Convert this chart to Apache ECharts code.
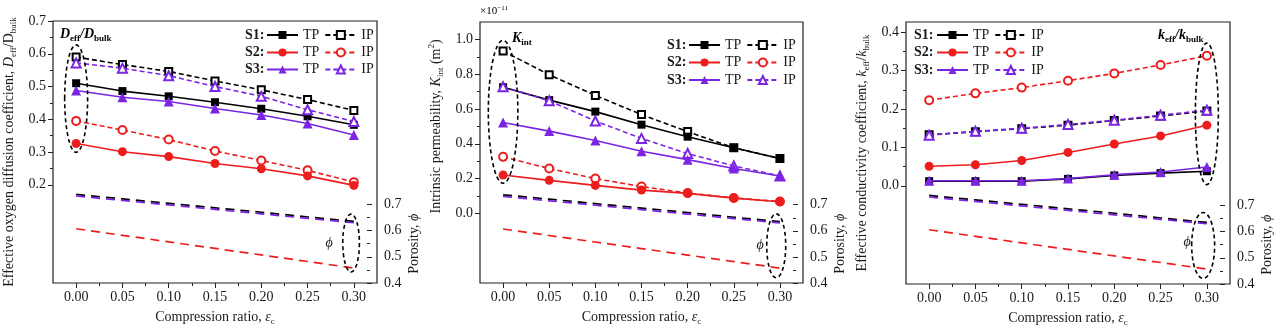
<!DOCTYPE html>
<html><head><meta charset="utf-8">
<script src="https://cdn.jsdelivr.net/npm/echarts@6/dist/echarts.min.js"></script>
<style>html,body{margin:0;padding:0;background:#fff}#c{width:1280px;height:332px}</style>
</head><body><div id="c"></div>
<script>
// ---------- DATA ----------
const xValues = [0, 0.05, 0.10, 0.15, 0.20, 0.25, 0.30];
// (a) Deff/Dbulk
const dS1TP = [0.510, 0.486, 0.470, 0.452, 0.432, 0.409, 0.383];
const dS1IP = [0.590, 0.567, 0.546, 0.517, 0.490, 0.460, 0.427];
const dS2TP = [0.326, 0.301, 0.286, 0.265, 0.249, 0.227, 0.198];
const dS2IP = [0.395, 0.367, 0.338, 0.303, 0.274, 0.244, 0.208];
const dS3TP = [0.488, 0.467, 0.454, 0.433, 0.413, 0.387, 0.352];
const dS3IP = [0.572, 0.556, 0.533, 0.500, 0.470, 0.429, 0.393];
// (b) Kint (x1e-11 m2)
const kS1TP = [0.725, 0.651, 0.585, 0.510, 0.441, 0.377, 0.315];
const kS1IP = [0.933, 0.797, 0.678, 0.568, 0.470, 0.377, 0.315];
const kS2TP = [0.221, 0.190, 0.161, 0.134, 0.115, 0.088, 0.067];
const kS2IP = [0.325, 0.258, 0.200, 0.154, 0.117, 0.089, 0.068];
const kS3TP = [0.522, 0.473, 0.419, 0.357, 0.309, 0.258, 0.215];
const kS3IP = [0.728, 0.647, 0.531, 0.431, 0.344, 0.273, 0.215];
// (c) keff/kbulk
const cS1TP = [0.012, 0.012, 0.012, 0.018, 0.027, 0.033, 0.038];
const cS1IP = [0.133, 0.141, 0.149, 0.158, 0.170, 0.182, 0.195];
const cS2TP = [0.051, 0.055, 0.066, 0.087, 0.109, 0.130, 0.158];
const cS2IP = [0.223, 0.241, 0.256, 0.274, 0.293, 0.315, 0.339];
const cS3TP = [0.013, 0.013, 0.013, 0.019, 0.029, 0.036, 0.049];
const cS3IP = [0.132, 0.142, 0.150, 0.160, 0.171, 0.184, 0.197];
// Porosity phi
const phiS1 = [0.738, 0.721, 0.704, 0.687, 0.670, 0.652, 0.635];
const phiS2 = [0.607, 0.582, 0.557, 0.532, 0.507, 0.482, 0.457];
const phiS3 = [0.732, 0.715, 0.698, 0.681, 0.664, 0.647, 0.630];
// Dashed ellipses [xCenter, xHalfWidth, yLow, yHigh]
const ellA = [0.000, 0.0124, 0.299, 0.627];
const ellAphi = [0.297, 0.0090, 0.442, 0.663];
const ellB = [0.000, 0.0160, 0.173, 0.994];
const ellBphi = [0.296, 0.0103, 0.420, 0.665];
const ellC = [0.300, 0.0124, 0.003, 0.372];
const ellCphi = [0.296, 0.0124, 0.421, 0.673];

// ---------- STYLE / LAYOUT ----------
const FONT = '"Liberation Serif","Times New Roman",serif';
const TXT = '#1a1a1a';
const COL = {S1: '#000000', S2: '#ee1d1d', S3: '#7b24e4'};
const rich = {
  n: {fontFamily: FONT, fontSize: 14, color: TXT, lineHeight: 18, verticalAlign: 'middle'},
  i: {fontFamily: FONT, fontSize: 14, color: TXT, lineHeight: 18, fontStyle: 'italic', verticalAlign: 'middle'},
  s: {fontFamily: FONT, fontSize: 9, color: TXT, lineHeight: 9, verticalAlign: 'bottom'},
  u: {fontFamily: FONT, fontSize: 9, color: TXT, lineHeight: 9, verticalAlign: 'top'},
  b: {fontFamily: FONT, fontSize: 14, color: TXT, lineHeight: 18, fontStyle: 'italic', fontWeight: 'bold', verticalAlign: 'middle'},
  bs: {fontFamily: FONT, fontSize: 9, color: TXT, lineHeight: 9, fontWeight: 'bold', verticalAlign: 'bottom'}
};
const X_MIN = -0.025, X_MAX = 0.325, PHI_MIN = 0.4, PHI_MAX = 1.4;

const panels = [
  {key: 'a', left: 53, top: 21, width: 324, height: 262, yMin: -0.1, yMax: 0.7, labMin: 0.2, labMax: 0.7, labInt: 0.1,
   series: {S1: [dS1TP, dS1IP], S2: [dS2TP, dS2IP], S3: [dS3TP, dS3IP]},
   yName: '{n|Effective oxygen diffusion coefficient, }{i|D}{s|eff}{n|/D}{s|bulk}', nameOnMain: true,
   legLeft: 266, sLeft: 245, rows: [35, 52.5, 69.5], ell: ellA, ellPhi: ellAphi,
   tag: '{b|D}{bs|eff}{b|/D}{bs|bulk}', tagX: 60, tagY: 34, phiX: 329, phiY: 243},
  {key: 'b', left: 480, top: 22, width: 323, height: 261, yMin: -0.4, yMax: 1.1, labMin: 0, labMax: 1.0, labInt: 0.2,
   series: {S1: [kS1TP, kS1IP], S2: [kS2TP, kS2IP], S3: [kS3TP, kS3IP]},
   yName: '{n|Intrinsic permeability, }{i|K}{s|int}{n| (m}{u|2}{n|)}', nameOnMain: false,
   legLeft: 688, sLeft: 667, rows: [45, 62.5, 80], ell: ellB, ellPhi: ellBphi,
   tag: '{b|K}{bs|int}', tagX: 512, tagY: 38, phiX: 760, phiY: 245},
  {key: 'c', left: 906, top: 22, width: 324, height: 262, yMin: -0.256, yMax: 0.427, labMin: 0, labMax: 0.4, labInt: 0.1,
   series: {S1: [cS1TP, cS1IP], S2: [cS2TP, cS2IP], S3: [cS3TP, cS3IP]},
   yName: '{n|Effective conductivity coefficient, }{i|k}{s|eff}{n|/}{i|k}{s|bulk}', nameOnMain: true,
   legLeft: 936, sLeft: 914, rows: [35, 52.5, 70], ell: ellC, ellPhi: ellCphi,
   tag: '{b|k}{bs|eff}{b|/k}{bs|bulk}', tagX: 1158, tagY: 35, phiX: 1187, phiY: 242}
];
const phiData = {S1: phiS1, S2: phiS2, S3: phiS3};
// [filled symbol, empty symbol, filled size, empty size]
const SYM = {S1: ['rect', 'emptyRect', 8, 7], S2: ['circle', 'emptyCircle', 9, 8], S3: ['triangle', 'emptyTriangle', 10, 9]};

const grids = [], xAxes = [], yAxes = [], series = [], legends = [], graphics = [];
const tickStyle = {color: '#222', width: 1};
const hiddenAxis = (gi) => ({type: 'value', gridIndex: gi, show: false});
const labelStyle = {fontFamily: FONT, fontSize: 14, color: TXT};

function ellipseSeries(spec, xi, yi) {
  return {
    type: 'custom', xAxisIndex: xi, yAxisIndex: yi, clip: false, silent: true, z: 20,
    data: [spec],
    renderItem: (params, api) => {
      const p1 = api.coord([api.value(0) - api.value(1), api.value(2)]);
      const p2 = api.coord([api.value(0) + api.value(1), api.value(3)]);
      return {type: 'ellipse',
        shape: {cx: (p1[0] + p2[0]) / 2, cy: (p1[1] + p2[1]) / 2, rx: Math.abs(p2[0] - p1[0]) / 2, ry: Math.abs(p2[1] - p1[1]) / 2},
        style: {fill: 'none', stroke: '#000', lineWidth: 1.6, lineDash: [4, 3]}};
    }
  };
}

panels.forEach((p, pi) => {
  const g0 = 4 * pi, xi0 = 4 * pi, yi0 = 5 * pi;
  const bottom = p.top + p.height;
  grids.push({left: p.left, top: p.top, width: p.width, height: p.height, show: true,
    borderColor: '#222', borderWidth: 1.2, backgroundColor: 'transparent', containLabel: false, outerBoundsMode: 'none'});
  const xl = p.left + (0 - X_MIN) / (X_MAX - X_MIN) * p.width;
  const xw = (0.3 - 0) / (X_MAX - X_MIN) * p.width;
  grids.push({left: xl, top: bottom - 10, width: xw, height: 10, containLabel: false, outerBoundsMode: 'none'});
  const yt = p.top + (p.yMax - p.labMax) / (p.yMax - p.yMin) * p.height;
  const yh = (p.labMax - p.labMin) / (p.yMax - p.yMin) * p.height;
  grids.push({left: p.left, top: yt, width: 10, height: yh, containLabel: false, outerBoundsMode: 'none'});
  const rt = p.top + (PHI_MAX - 0.7) / (PHI_MAX - PHI_MIN) * p.height;
  const rh = (0.7 - 0.4) / (PHI_MAX - PHI_MIN) * p.height;
  grids.push({left: p.left + p.width - 10, top: rt, width: 10, height: rh, containLabel: false, outerBoundsMode: 'none'});

  xAxes.push({type: 'value', gridIndex: g0, min: X_MIN, max: X_MAX, axisLine: {show: false}, axisTick: {show: false},
    axisLabel: {show: false}, splitLine: {show: false}});
  xAxes.push({type: 'value', gridIndex: g0 + 1, min: 0, max: 0.3, interval: 0.05, position: 'bottom',
    axisLine: {show: false}, axisTick: {show: true, length: 5, lineStyle: tickStyle},
    minorTick: {show: true, splitNumber: 2, length: 3, lineStyle: tickStyle},
    axisLabel: Object.assign({margin: 7, formatter: v => v.toFixed(2), showMinLabel: true, showMaxLabel: true}, labelStyle),
    splitLine: {show: false},
    name: '{n|Compression ratio, }{i|ε}{s|c}', nameLocation: 'middle', nameGap: 25, nameTextStyle: {rich}});
  xAxes.push(hiddenAxis(g0 + 2));
  xAxes.push(hiddenAxis(g0 + 3));

  const mainY = {type: 'value', gridIndex: g0, min: p.yMin, max: p.yMax, axisLine: {show: false}, axisTick: {show: false},
    axisLabel: {show: false}, splitLine: {show: false}};
  if (p.nameOnMain) Object.assign(mainY, {name: p.yName, nameLocation: 'middle', nameGap: 35, nameTextStyle: {rich}});
  yAxes.push(mainY);
  yAxes.push({type: 'value', gridIndex: g0, position: 'right', min: PHI_MIN, max: PHI_MAX, axisLine: {show: false},
    axisTick: {show: false}, axisLabel: {show: false}, splitLine: {show: false}});
  yAxes.push(hiddenAxis(g0 + 1));
  const labY = {type: 'value', gridIndex: g0 + 2, position: 'left', min: p.labMin, max: p.labMax, interval: p.labInt,
    axisLine: {show: false}, axisTick: {show: true, length: 5, lineStyle: tickStyle},
    minorTick: {show: true, splitNumber: 2, length: 3, lineStyle: tickStyle},
    axisLabel: Object.assign({margin: 7, formatter: v => v.toFixed(1), showMinLabel: true, showMaxLabel: true}, labelStyle),
    splitLine: {show: false}};
  if (!p.nameOnMain) Object.assign(labY, {name: p.yName, nameLocation: 'middle', nameGap: 35, nameTextStyle: {rich}});
  yAxes.push(labY);
  yAxes.push({type: 'value', gridIndex: g0 + 3, position: 'right', min: 0.4, max: 0.7, interval: 0.1,
    axisLine: {show: false}, axisTick: {show: true, length: 5, lineStyle: tickStyle},
    minorTick: {show: true, splitNumber: 2, length: 3, lineStyle: tickStyle},
    axisLabel: Object.assign({margin: 7, formatter: v => v.toFixed(1), showMinLabel: true, showMaxLabel: true}, labelStyle),
    splitLine: {show: false},
    name: '{n|Porosity, }{i|ϕ}', nameLocation: 'middle', nameGap: 28, nameTextStyle: {rich}});

  // porosity lines
  ['S1', 'S3', 'S2'].forEach((s) => {
    series.push({name: `phi ${s} ${p.key}`, type: 'line', xAxisIndex: xi0, yAxisIndex: yi0 + 1,
      data: xValues.map((x, i) => [x, phiData[s][i]]), showSymbol: false, symbol: 'none', z: 2,
      lineStyle: {color: COL[s], width: 1.7, type: [9, 6]}, silent: true});
  });
  // property lines: S1 at bottom, S3 on top
  ['S1', 'S2', 'S3'].forEach((s, k) => {
    const [tp, ip] = p.series[s];
    const [fs, es, sz, esz] = SYM[s];
    series.push({name: `${s} IP ${p.key}`, type: 'line', xAxisIndex: xi0, yAxisIndex: yi0,
      data: xValues.map((x, i) => [x, ip[i]]), symbol: es, symbolSize: esz, z: 4 + 2 * k,
      itemStyle: {color: COL[s], borderColor: COL[s], borderWidth: 1.5},
      lineStyle: {color: COL[s], width: 1.6, type: [5, 3]}, silent: true});
    series.push({name: `${s} TP ${p.key}`, type: 'line', xAxisIndex: xi0, yAxisIndex: yi0,
      data: xValues.map((x, i) => [x, tp[i]]), symbol: fs, symbolSize: sz, z: 5 + 2 * k,
      itemStyle: {color: COL[s]}, lineStyle: {color: COL[s], width: 1.6, type: 'solid'}, silent: true});
  });
  series.push(ellipseSeries(p.ell, xi0, yi0));
  series.push(ellipseSeries(p.ellPhi, xi0, yi0 + 1));

  ['S1', 'S2', 'S3'].forEach((s, r) => {
    legends.push({data: [`${s} TP ${p.key}`, `${s} IP ${p.key}`], left: p.legLeft, top: p.rows[r] - 8,
      orient: 'horizontal', padding: 0, itemWidth: 31, itemHeight: 10, itemGap: 5, selectedMode: false,
      formatter: n => n.split(' ')[1], textStyle: {fontFamily: FONT, fontSize: 14, color: TXT, lineHeight: 16}});
    graphics.push({type: 'text', silent: true, style: {x: p.sLeft, y: p.rows[r], text: s + ':', fill: TXT,
      font: 'bold 14px ' + FONT, verticalAlign: 'middle'}});
  });
  graphics.push({type: 'text', silent: true, style: {x: p.tagX, y: p.tagY, text: p.tag, rich, verticalAlign: 'middle'}});
  graphics.push({type: 'text', silent: true, style: {x: p.phiX, y: p.phiY, text: 'ϕ', fill: TXT,
    font: 'italic 14px ' + FONT, align: 'center', verticalAlign: 'middle'}});
});
graphics.push({type: 'text', silent: true, style: {x: 480, y: 11, text: '{m|×10}{t|−11}', verticalAlign: 'middle',
  rich: {m: {fontFamily: FONT, fontSize: 11, color: TXT, lineHeight: 13, verticalAlign: 'middle'},
         t: {fontFamily: FONT, fontSize: 7, color: TXT, lineHeight: 7, verticalAlign: 'top'}}}});

const chart = echarts.init(document.getElementById('c'), null, {renderer: 'canvas'});
chart.setOption({
  animation: false, backgroundColor: '#fff',
  grid: grids, xAxis: xAxes, yAxis: yAxes, series, legend: legends, graphic: graphics
});
</script></body></html>
